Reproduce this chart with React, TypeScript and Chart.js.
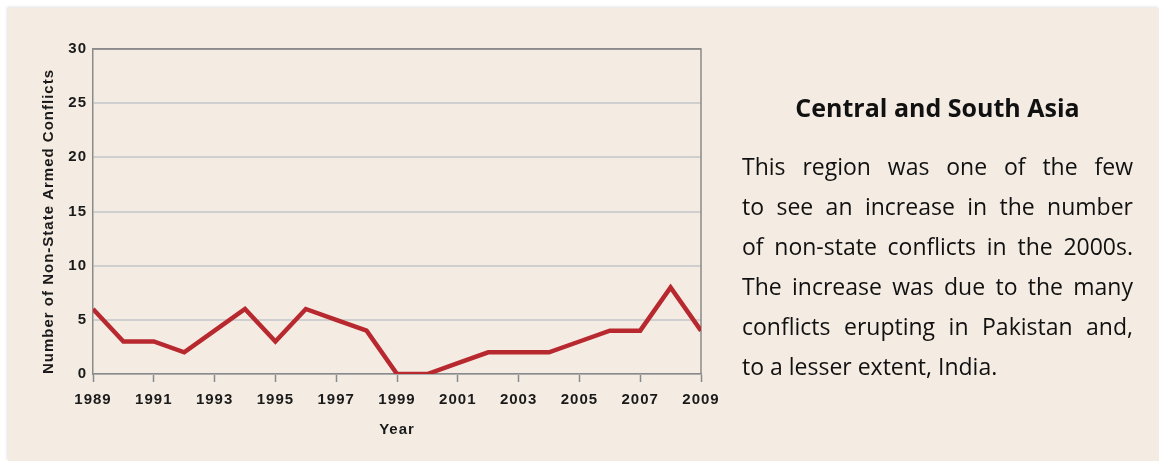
import React, { useEffect, useRef } from "react";
import { Chart, registerables } from "chart.js";

Chart.register(...registerables);

const years: number[] = [1989, 1990, 1991, 1992, 1993, 1994, 1995, 1996, 1997, 1998, 1999, 2000, 2001, 2002, 2003, 2004, 2005, 2006, 2007, 2008, 2009];
const conflicts: number[] = [6, 3, 3, 2, 4, 6, 3, 6, 5, 4, 0, 0, 1, 2, 2, 2, 3, 4, 4, 8, 4];
const yTicks: number[] = [0, 5, 10, 15, 20, 25, 30];
const xTickYears: number[] = [1989, 1991, 1993, 1995, 1997, 1999, 2001, 2003, 2005, 2007, 2009];

const titleText = "Central and South Asia";
const bodyLines: string[] = [
  "This region was one of the few",
  "to see an increase in the number",
  "of non-state conflicts in the 2000s.",
  "The increase was due to the many",
  "conflicts erupting in Pakistan and,",
  "to a lesser extent, India.",
];

const AXIS_GRAY = "#8a8a8a";
const GRID_GRAY = "#cfcfcf";
const TEXT = "#1a1a1a";

const spacingPlugin = {
  id: "letterSpacing",
  beforeDraw(chart: any) {
    try {
      chart.ctx.letterSpacing = "1px";
    } catch (e) {}
  },
};

const framePlugin = {
  id: "frame",
  beforeDatasetsDraw(chart: any) {
    const { ctx, chartArea } = chart;
    ctx.save();
    ctx.strokeStyle = AXIS_GRAY;
    ctx.lineWidth = 1.5;
    ctx.beginPath();
    ctx.moveTo(chartArea.left, chartArea.top);
    ctx.lineTo(chartArea.right, chartArea.top);
    ctx.lineTo(chartArea.right, chartArea.bottom);
    ctx.stroke();
    ctx.restore();
  },
};

function LineChart() {
  const ref = useRef<HTMLCanvasElement | null>(null);
  useEffect(() => {
    if (!ref.current) return;
    const family = "'Liberation Sans', Arial, sans-serif";
    const font = { family, size: 15, weight: "bold" as const };
    const chart = new Chart(ref.current, {
      type: "line",
      data: {
        datasets: [
          {
            data: years.map((y, i) => ({ x: y, y: conflicts[i] })),
            borderColor: "#b8282f",
            borderWidth: 4.5,
            pointRadius: 0,
            tension: 0,
            borderJoinStyle: "miter",
            borderCapStyle: "butt",
            fill: false,
          },
        ],
      },
      options: {
        animation: false,
        responsive: false,
        devicePixelRatio: 1,
        layout: { padding: { left: 0, top: 41, right: 27, bottom: 0 } },
        plugins: { legend: { display: false }, tooltip: { enabled: false } },
        scales: {
          x: {
            type: "linear",
            min: years[0],
            max: years[years.length - 1],
            afterFit: (s: any) => {
              s.height = 87;
            },
            afterBuildTicks: (s: any) => {
              s.ticks = xTickYears.map((v) => ({ value: v }));
            },
            ticks: {
              font,
              color: TEXT,
              padding: 9,
              autoSkip: false,
              maxRotation: 0,
              callback: (v: any) => String(v),
            },
            grid: {
              drawOnChartArea: false,
              drawTicks: true,
              tickLength: 8,
              tickColor: AXIS_GRAY,
              tickWidth: 1.5,
              color: AXIS_GRAY,
            },
            border: { display: true, color: AXIS_GRAY, width: 1.5 },
            title: {
              display: true,
              text: "Year",
              font,
              color: TEXT,
              padding: { top: 0, bottom: 22 },
            },
          },
          y: {
            min: 0,
            max: 30,
            afterFit: (s: any) => {
              s.width = 85;
            },
            afterBuildTicks: (s: any) => {
              s.ticks = yTicks.map((v) => ({ value: v }));
            },
            ticks: { font, color: TEXT, padding: 6 },
            grid: {
              drawTicks: false,
              color: (c: any) => (c.tick && c.tick.value === 30 ? AXIS_GRAY : GRID_GRAY),
              lineWidth: (c: any) => (c.tick && c.tick.value === 30 ? 1.5 : 2),
            },
            border: { display: true, color: AXIS_GRAY, width: 1.5 },
            title: {
              display: true,
              text: "Number of Non-State Armed Conflicts",
              font,
              color: TEXT,
              align: "start",
              padding: { top: 32, bottom: 0 },
            },
          },
        },
      },
      plugins: [spacingPlugin, framePlugin],
    } as any);
    return () => chart.destroy();
  }, []);
  return (
    <canvas
      ref={ref}
      width={720}
      height={453}
      style={{ position: "absolute", left: 0, top: 0, width: 720, height: 453 }}
    />
  );
}

export default function App() {
  return (
    <div
      style={{
        position: "fixed",
        left: 8,
        top: 8,
        right: 0,
        bottom: 0,
        background: "#f4ece3",
        boxShadow: "-1px -1px 3px rgba(0,0,0,0.12)",
        overflow: "hidden",
      }}
    >
      <LineChart />
      <div
        style={{
          position: "absolute",
          left: 734,
          top: 84,
          width: 391,
          textAlign: "center",
          fontFamily: "'Open Sans', sans-serif",
          fontWeight: 700,
          fontSize: 25,
          lineHeight: "30px",
          color: "#111",
          whiteSpace: "nowrap",
        }}
      >
        {titleText}
      </div>
      <div
        style={{
          position: "absolute",
          left: 734,
          top: 138,
          width: 391,
          fontFamily: "'Open Sans', sans-serif",
          fontSize: 23,
          lineHeight: "40px",
          color: "#111",
        }}
      >
        {bodyLines.map((line, i) => (
          <div
            key={i}
            style={{
              whiteSpace: "nowrap",
              textAlign: i === bodyLines.length - 1 ? "left" : "justify",
              textAlignLast: i === bodyLines.length - 1 ? "left" : "justify",
            }}
          >
            {line}
          </div>
        ))}
      </div>
    </div>
  );
}
